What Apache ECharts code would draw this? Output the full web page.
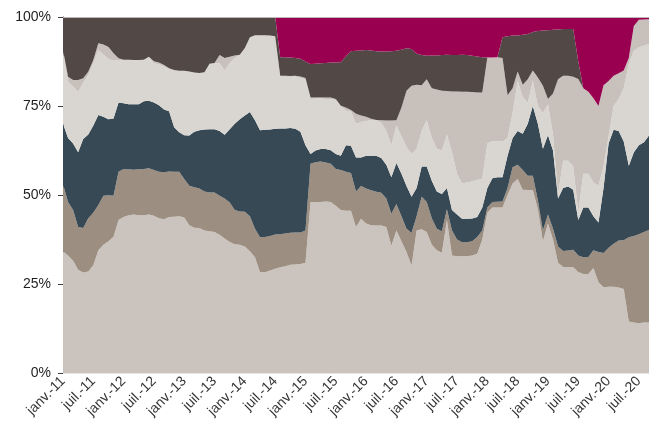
<!DOCTYPE html>
<html><head><meta charset="utf-8">
<script src="https://cdn.jsdelivr.net/npm/echarts/dist/echarts.min.js"></script>
<style>html,body{margin:0;padding:0;background:#fff}#c{width:650px;height:434px}</style>
</head><body><div id="c"></div>
<script>
// Month labels (French abbreviations), Jan 2011 .. Sep 2020
const monthNames = ['janv.','févr.','mars','avr.','mai','juin','juil.','août','sept.','oct.','nov.','déc.'];
const firstYear = 2011;
const monthCount = 117;
const categories = [];
for (let k = 0; k < monthCount; k++) {
  const y = firstYear + Math.floor(k / 12);
  categories.push(monthNames[k % 12] + '-' + String(y).slice(2));
}
const yTicks = [0, 25, 50, 75, 100];

// Shares (%) per series, bottom to top
const serie1 = [34.1,33,31.5,29,28.2,28.5,30.3,34.5,36,37,
38.3,43,43.8,44.3,44.5,44.3,44.3,44.5,44.2,43.5,
43.2,43.8,43.9,44,43.7,41.5,40.8,40.7,40,39.8,
39.6,38.8,37.8,36.8,36.2,36,35.5,34.2,32.5,28.3,
28.3,28.8,29.3,29.7,30,30.4,30.5,30.6,31,48,
48,48,48.2,48,47,45.8,45.6,45.6,41,43.3,
42,41.5,41.4,41.4,41,35.8,40,37,34,30.2,
40,40.4,39.6,36,34.5,33.8,43,33,32.8,32.8,
32.8,33,33.5,37.5,45,46.5,46.5,46.5,50,53.2,
54.5,51.5,51.4,51.4,46,37,42,37.5,31,29.8,
29.8,29.7,28.4,27.8,27.8,29.5,25.5,24.1,24.2,24.2,
24,23.6,14.5,14.2,14,14.2,14.2];
const serie2 = [18.9,15,14.3,12,12.5,15,14.7,12.7,13.8,12.9,
11.5,13.5,13.5,12.9,12.6,12.9,13,13,12.8,13,
13.2,12.8,12.6,12.5,10.8,11.1,11.4,11.1,11,10.9,
11.1,11,11.2,11.1,9.6,9.4,9.8,9.8,8,9.8,
9.9,9.7,9.6,9.3,9.2,9,9,8.9,9,10.8,
11.2,11.4,10.9,10.8,10.3,11.2,10.9,10.6,10,9.2,
9.8,9.8,9.5,9.2,8,8.9,7.5,7,6.5,9.2,
4,9.1,8.4,7.5,6,6,3,7,4.7,3.9,
3.9,4,4.7,2.5,1.5,1.5,1.6,1.7,2,4.6,
4,5.5,4,4,2.5,3,2.5,3,4.5,4.5,
4.6,4.9,4.6,4.7,4.8,5,8.5,9.6,11,12.1,
13.2,13.7,23.6,24.3,25,25.4,26];
const serie3 = [17,18,18.7,21,25,23.5,24.5,25.3,22.2,21.4,
21.7,19.5,18.5,18.3,18.4,18.3,19,19,19,18.7,
17.6,16.9,12.5,11.1,12.3,14.1,15.6,16.4,17.4,17.8,
17.8,18.2,17.9,20.6,24.2,25.9,27,29.3,30.5,30.1,
30.1,29.9,29.7,29.7,29.5,29.4,29.1,28.3,24,2.7,
3.3,3.5,3.8,3.8,4.2,4,7.5,7.6,9.5,8,
9.2,9.7,10.1,9.8,9.5,10.3,11.5,12,12,10.1,
8,8.5,10,10.5,10.5,10.5,6,5.8,7,6.6,
6.6,6.4,5.6,6.5,5.5,6.7,6.9,6.8,9,8.2,
9.5,10.2,14.6,19.6,21.5,23,22.3,22,13.5,17.7,
18,16.9,10,14,13.9,9.5,8.3,18.3,29.3,32,
30.8,27.7,20.1,23.5,25,25.2,26.5];
const serie4 = [20.5,15.8,16,17,15.8,16.7,17.5,18.2,17.5,16.9,
16.2,11.9,12.1,12.4,12.3,12.3,11.6,12.2,11,11.5,
12,11.9,15.9,17.2,18,17.9,16.5,16,16,18.3,
18.5,19,18.1,18.5,18.5,18,18.9,20.9,23.8,26.6,
26.5,26.3,25.9,14.6,14.5,14.4,14.7,15.1,18.5,15.5,
14.6,14.3,14.1,14.4,15.1,14,9.7,9.7,9.5,10,
9.8,10,10,9.9,9.5,9,10.5,10.5,10.9,12,
11,10,13,12,12,12.2,15,16.2,11.5,9.9,
10.2,10.4,10.4,8,12.5,10.5,10.1,10,5,7,
14,10.3,6,7,5,10,8.7,4.5,1,7.6,
7.2,6.5,2,9.5,9.5,9.5,10.3,6,2,6.7,
9,15,28.6,28.5,27.5,27.2,25.7];
const serie5 = [0.2,1.4,1.8,3.3,1.3,0.9,0.9,1.9,2.8,3.4,
2.1,0.5,0.1,0.1,0.1,0.1,0.1,0.1,0.6,0.5,
0.5,0.2,0.2,0.1,0.1,0.1,0.1,0.1,0.1,0.1,
0.1,2.3,3.5,1.8,0.7,0.1,0.1,0.1,0.1,0.1,
0.1,0.1,0.1,0.2,0.3,0.2,0.2,0.4,0.4,0.4,
0.3,0.2,0.4,0.4,0.4,0.1,0.9,0.4,2.8,1.8,
1.2,0.4,0.1,0.7,2.9,6.9,1.5,8.1,15.9,19.2,
18,12.8,11.5,14,16.6,16.8,12.2,17.1,23.1,25.8,
25.5,25.1,24.6,24.3,24.1,23.4,23.6,23.5,12,7,
2.7,3.5,6.5,3,8,7.7,1.5,11.5,32.5,23.9,
23.9,25.2,37.6,24,23,23.7,22.4,22.8,15.5,8.5,
7.2,5,1.7,7,7.7,7.3,7];
const serie6 = [9.3,16.8,17.7,17.7,17.2,15.4,12.1,7.4,7.7,8.4,
10.2,11.6,12,12,12.1,12.1,12,11.2,12.4,12.8,
13.5,14.4,14.9,15.1,15.1,15.3,15.6,15.7,15.5,13.1,
12.9,10.7,11.5,11.2,10.8,10.6,8.7,5.7,5.1,5.1,
5.1,5.2,5.4,5.2,5.2,5.2,5,5,4.6,9.4,
9.5,9.6,9.7,9.8,10.2,12.2,14.4,16.5,17.7,18.3,
18.7,19.2,19.3,19.3,19.4,19.5,19.5,16.2,11.9,10.3,
8.7,8.5,6.6,9.2,9.6,10,10.2,10.2,10.2,10.4,
10.3,10.2,10.1,9.9,0,0,0,5.8,16.6,14.8,
10.1,14,12.7,10.8,13.1,15.5,19.3,17.9,14,13.1,
13.1,13.4,4.9,0,0,0,0,0,0,0,
0,0,0,0,0,0,0];
const serie7 = [0,0,0,0,0,0,0,0,0,0,
0,0,0,0,0,0,0,0,0,0,
0,0,0,0,0,0,0,0,0,0,
0,0,0,0,0,0,0,0,0,0,
0,0,0,11.3,11.3,11.4,11.5,11.7,12.5,13.2,
13.1,13,12.9,12.8,12.8,12.7,11,9.6,9.5,9.4,
9.3,9.4,9.6,9.7,9.7,9.6,9.5,9.2,8.8,9,
10.3,10.7,10.9,10.8,10.8,10.7,10.6,10.7,10.7,10.6,
10.7,10.9,11.1,11.3,11.4,11.4,11.3,5.7,5.4,5.2,
5.2,5,4.8,4.2,3.9,3.8,3.7,3.6,3.5,3.4,
3.4,3.4,12.5,20,21,22.8,25,19.2,18,16.5,
15.8,15,11.5,2.5,0.8,0.7,0.6];

const seriesData = [serie1, serie2, serie3, serie4, serie5, serie6, serie7];
const colors = ['#cbc4be', '#9c8e80', '#374955', '#d9d6d1', '#c8c1bb', '#524845', '#990050'];

const chart = echarts.init(document.getElementById('c'), null, {renderer: 'canvas'});
const font = "'Liberation Sans', Arial, sans-serif";
chart.setOption({
  animation: false,
  backgroundColor: '#ffffff',
  grid: {left: 63, right: 1, top: 17, bottom: 61, containLabel: false, outerBoundsMode: 'none'},
  xAxis: {
    type: 'category', boundaryGap: false, data: categories,
    axisLine: {show: true, lineStyle: {color: '#e6e6e6', width: 1}},
    axisTick: {show: false},
    axisLabel: {interval: 5, rotate: 45, fontSize: 14, color: '#333333', fontFamily: font, margin: 6},
    splitLine: {show: false}
  },
  yAxis: {
    type: 'value', min: yTicks[0], max: yTicks[yTicks.length - 1], interval: 25,
    axisLine: {show: true, lineStyle: {color: '#404040', width: 1}},
    axisTick: {show: true, length: 5, lineStyle: {color: '#404040'}},
    axisLabel: {formatter: '{value}%', fontSize: 14, color: '#1f1f1f', fontFamily: font, margin: 12},
    splitLine: {show: false}
  },
  series: seriesData.map((d, k) => ({
    type: 'line', stack: 'total', data: d,
    symbol: 'none', showSymbol: false,
    lineStyle: {width: 0, opacity: 0},
    areaStyle: {color: colors[k], opacity: 1},
    emphasis: {disabled: true},
    silent: true,
    markLine: k === 6 ? {silent: true, symbol: 'none', label: {show: false},
      lineStyle: {color: '#c0b8b8', width: 1, type: 'solid'}, data: [{yAxis: 100}]} : undefined
  }))
});
</script></body></html>
